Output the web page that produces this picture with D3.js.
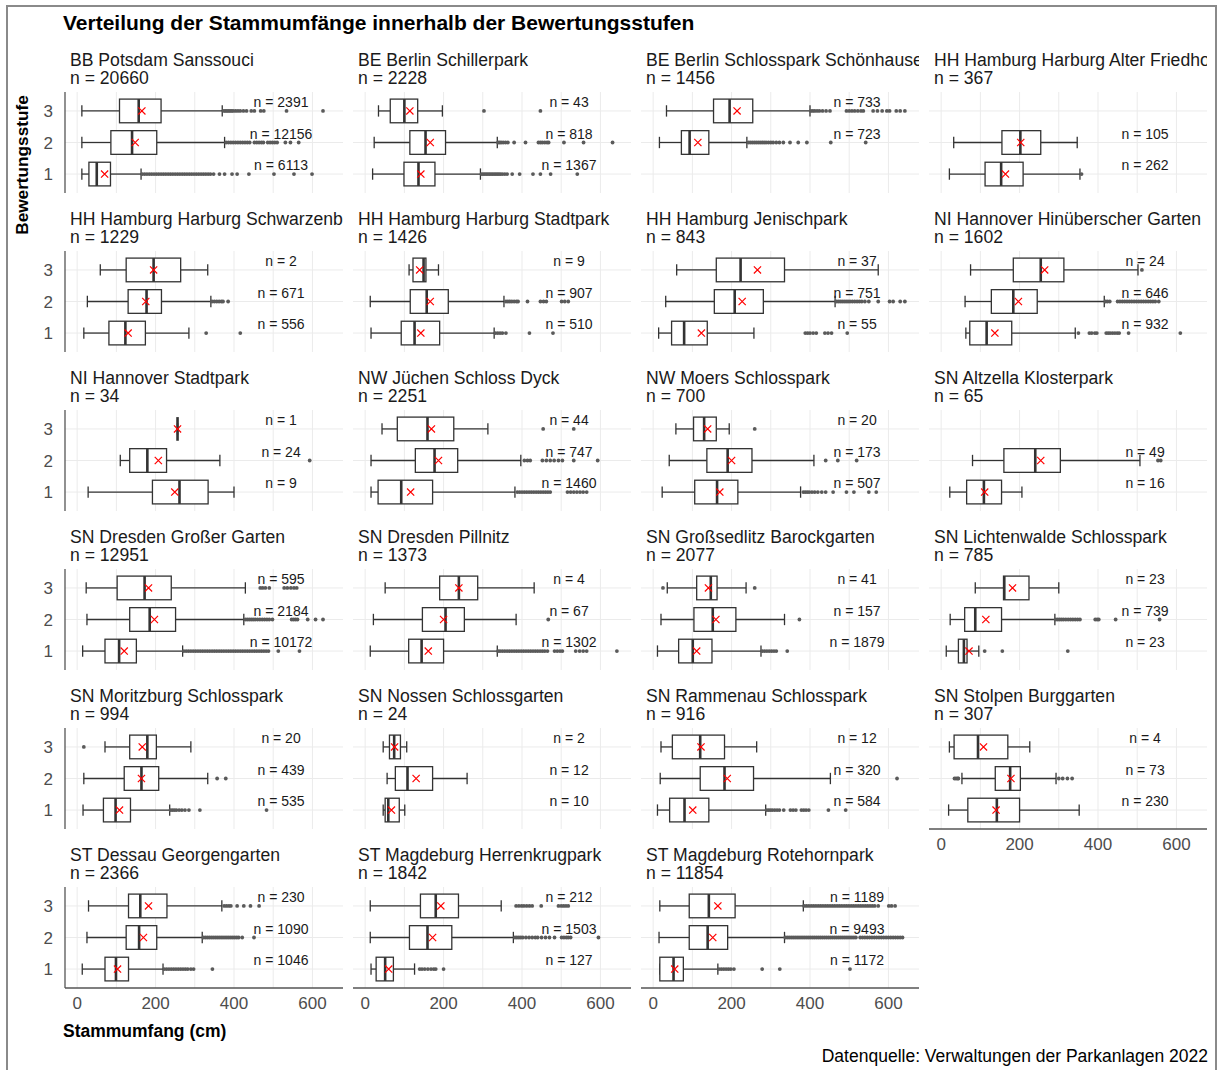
<!DOCTYPE html>
<html><head><meta charset="utf-8">
<script src="https://cdn.jsdelivr.net/npm/d3@7"></script>
<style>
body{margin:0;background:#fff;font-family:"Liberation Sans",Arial,sans-serif;}
</style></head><body>
<script>
// Parks (facets) in facet order
const parks = ["BB Potsdam Sanssouci","BE Berlin Schillerpark","BE Berlin Schlosspark Schönhausen","HH Hamburg Harburg Alter Friedhof",
  "HH Hamburg Harburg Schwarzenberg","HH Hamburg Harburg Stadtpark","HH Hamburg Jenischpark","NI Hannover Hinüberscher Garten",
  "NI Hannover Stadtpark","NW Jüchen Schloss Dyck","NW Moers Schlosspark","SN Altzella Klosterpark",
  "SN Dresden Großer Garten","SN Dresden Pillnitz","SN Großsedlitz Barockgarten","SN Lichtenwalde Schlosspark",
  "SN Moritzburg Schlosspark","SN Nossen Schlossgarten","SN Rammenau Schlosspark","SN Stolpen Burggarten",
  "ST Dessau Georgengarten","ST Magdeburg Herrenkrugpark","ST Magdeburg Rotehornpark"];
const parkN = [20660,2228,1456,367,1229,1426,843,1602,34,2251,700,65,12951,1373,2077,785,994,24,916,307,2366,1842,11854];
const stufen = ["1","2","3"];
// n per Bewertungsstufe [1,2,3]
const groupN = [[6113,12156,2391],[1367,818,43],[null,723,733],[262,105,null],[556,671,2],[510,907,9],[55,751,37],[932,646,24],
  [9,24,1],[1460,747,44],[507,173,20],[16,49,null],[10172,2184,595],[1302,67,4],[1879,157,41],[23,739,23],
  [535,439,20],[10,12,2],[584,320,12],[230,73,4],[1046,1090,230],[127,1503,212],[1172,9493,1189]];
// [whisker low, q1, median, q3, whisker high] per Stufe 1,2,3
const boxes = [
  [[12,30,50,85,163],[12,86,140,203,376],[12,108,157,214,370]],
  [[19,99,136,178,294],[23,114,154,205,337],[34,64,100,134,197]],
  [null,[16,72,93,142,239],[34,154,195,254,400]],
  [[21,112,153,209,354],[32,155,202,254,347],null],
  [[17,81,123,174,285],[26,130,177,215,341],[59,125,195,264,333]],
  [[15,92,126,190,329],[13,115,157,212,354],[112,122,149,155,187]],
  [[14,47,79,138,257],[32,156,208,281,464],[60,161,223,335,574]],
  [[63,73,116,180,342],[61,128,184,245,416],[75,184,254,313,502]],
  [[28,192,261,334,400],[110,134,179,228,364],[256,256,256,256,256]],
  [[15,33,92,172,382],[15,128,177,236,397],[43,82,159,226,313]],
  [[23,106,163,216,376],[41,137,190,252,410],[58,103,130,161,194]],
  [[22,65,109,154,206],[80,160,240,304,507],null],
  [[14,71,107,151,269],[25,134,185,251,425],[23,102,172,240,429]],
  [[13,111,144,200,337],[21,146,205,253,385],[51,190,239,287,431]],
  [[11,65,101,150,275],[20,104,152,211,335],[36,111,147,163,237]],
  [[13,44,58,66,96],[23,60,87,154,290],[87,159,161,224,300]],
  [[15,67,98,136,236],[17,120,164,208,333],[71,134,179,202,290]],
  [[46,51,59,87,101],[56,77,108,172,260],[46,62,74,90,106]],
  [[11,42,80,142,287],[18,120,182,256,452],[20,49,120,182,264]],
  [[19,68,142,200,352],[53,138,176,202,293],[21,33,94,170,226]],
  [[13,71,99,131,219],[25,125,158,203,319],[29,131,161,229,369]],
  [[15,28,51,72,126],[13,113,159,221,378],[13,141,180,238,347]],
  [[17,17,52,77,165],[15,92,139,190,335],[17,92,142,209,383]]
];
const means = [[70,148,165],[142,166,114],[null,114,214],[164,203,null],[130,175,195],[142,166,139],[123,227,266],[137,197,264],
  [249,207,256],[116,187,169],[170,200,139],[111,254,null],[120,197,182],[161,200,239],[111,160,141],[71,114,182],
  [108,164,166],[67,130,75],[101,189,122],[140,178,108],[103,169,182],[60,172,193],[55,152,165]];
const outliers = [
  [[166,172,178,184,190,196,202,208,214,220,226,232,238,244,250,256,262,268,274,280,286,292,298,304,310,316,322,328,334,340,348,363,376,395,408,438,502,553,599],
   [380,386,392,398,404,410,416,422,428,434,440,452,458,464,470,475,486,492,498,504,510,531,544,565],
   [374,378,382,386,390,394,398,404,410,416,424,432,444,452,468,476,534,627]],
  [[297,301,305,309,313,317,321,325,329,333,337,341,345,350,356,362,375,394,428,447,473,541],
   [339,343,347,352,358,364,380,409,442,447,452,458,464,468,507,557,631],
   [303,447]],
  [[],
   [243,248,253,258,263,268,273,278,283,288,294,300,306,314,322,332,349,370,392,453,542],
   [402,407,412,418,424,432,441,451,493,500,507,514,522,530,536,561,572,584,596,603,620,630,642]],
  [[358],[],[]],
  [[329,416],[344,350,356,362,368,372,385],[]],
  [[332,338,344,350,359,419,479],[359,364,369,374,380,386,390,414,447,455,462,501,509,518],[]],
  [[388,394,400,408,416,438,446,455,495],[467,472,477,482,487,492,497,502,508,514,520,526,532,540,550,574,603,612,630,642],[]],
  [[350,378,384,392,397,421,426,431,437,443,449,454,478,610],[419,424,430,450,456,462,468,474,480,486,492,498,504,510,516,522,528,534,540,546,555],[512]],
  [[],[593],[]],
  [[388,394,400,406,412,418,424,430,436,442,448,454,460,466,472,516,524,532,540,548,556,565],[406,414,421,452,462,472,482,493,503,532,593],[454,532]],
  [[383,388,393,398,405,412,420,430,440,459,493,512,550,569],[440,471,519],[259]],
  [[],[553,560],[]],
  [[272,278,284,290,296,302,308,314,320,326,332,338,344,350,356,362,368,374,380,386,392,398,404,410,416,422,428,434,440,446,452,458,464,470,476,482,488,513,567],
   [429,434,439,444,449,454,460,466,472,478,484,490,498,547,552,557,562,588,608,627],
   [467,473,480,490,528,536,545,553,560]],
  [[339,344,350,356,362,368,374,380,386,392,398,404,410,416,422,428,434,440,446,452,458,465,483,490,497,503,537,547,556,565,642],[467],[]],
  [[278,284,290,296,302,308,314,342],[373],[25,259]],
  [[111,156,323],[292,297,302,307,312,318,324,330,336,342,348,354,393,398,402,445,557],[]],
  [[238,243,248,253,260,267,275,285,313,483],[357,379],[17]],
  [[],[],[]],
  [[289,294,299,304,310,316,322,333,350,357,364,378,384,390,397,447,491],[622],[]],
  [[],[34,38,42,44,300,310,322,334],[]],
  [[222,228,234,240,246,252,258,264,270,276,282,290,297,345],
   [322,327,332,337,342,347,352,357,362,367,372,377,382,387,392,397,402,407,412,421,451],
   [375,381,387,392,408,425,442,464]],
  [[139,145,152,160,168,175,180,200],
   [382,387,392,397,402,410,418,426,434,440,450,460,470,483,501,507,513,518,524,595],
   [385,392,399,405,412,419,426,449,493,500,506,512,518]],
  [[168,174,180,186,192,198,206,278,323,502],
   [337,342,347,352,357,362,367,372,377,382,387,392,397,402,407,412,417,422,427,432,437,442,447,452,457,462,467,472,477,482,487,492,497,502,507,512,517,528,534,540,546,552,558,564,570,576,582,588,594,600,606,612,618,624,630,636],
   [385,391,397,403,409,415,421,427,433,439,445,451,457,463,469,475,481,487,493,499,505,511,517,523,529,535,541,547,553,559,565,574,601,608,617]]
];
const xTicks = [0,200,400,600];
const nLabelX = 520;

const W = 1218, H = 1070;
const PW = 278, PH = 101, COLSTEP = 288, ROWSTEP = 159, LEFT = 65, TOP = 92;
const DARK = "#333333";

const svg = d3.select("body").append("svg").attr("width", W).attr("height", H);
const x = d3.scaleLinear().domain([-31, 678]).range([0, PW]);
const y = d3.scalePoint().domain(["3","2","1"]).range([0, PH]).padding(0.6);
const step = y.step();

svg.append("rect").attr("x", 7).attr("y", 6).attr("width", 1209).attr("height", 1090)
  .attr("fill", "none").attr("stroke", "#8a8a8a").attr("stroke-width", 2);

svg.append("text").attr("x", 63).attr("y", 30).text("Verteilung der Stammumfänge innerhalb der Bewertungsstufen")
  .attr("font-size", "21px").attr("font-weight", "bold").attr("fill", "#000");

parks.forEach((name, i) => {
  const col = i % 4, row = Math.floor(i / 4);
  const g = svg.append("g").attr("transform", "translate(" + (LEFT + col * COLSTEP) + "," + (TOP + row * ROWSTEP) + ")");

  // strip
  svg.append("clipPath").attr("id", "clip" + i).append("rect")
    .attr("x", 0).attr("y", -60).attr("width", PW).attr("height", 60);
  const strip = g.append("g").attr("clip-path", "url(#clip" + i + ")")
    .attr("font-size", "17.6px").attr("fill", "#1a1a1a");
  strip.append("text").attr("x", 5).attr("y", -26).text(name);
  strip.append("text").attr("x", 5).attr("y", -8).text("n = " + parkN[i]);

  // grid
  g.selectAll(".vg").data(x.ticks(7)).enter().append("line")
    .attr("x1", d => x(d)).attr("x2", d => x(d)).attr("y1", 0).attr("y2", PH)
    .attr("stroke", "#ebebeb").attr("stroke-width", 1);
  g.selectAll(".hg").data(y.domain()).enter().append("line")
    .attr("x1", 0).attr("x2", PW).attr("y1", d => y(d)).attr("y2", d => y(d))
    .attr("stroke", "#ebebeb").attr("stroke-width", 1);

  stufen.forEach((s, j) => {
    const b = boxes[i][j];
    if (!b) return;
    const yy = y(s), bh = 0.75 * step, ch = 0.36 * step;
    // whiskers + caps
    g.append("line").attr("x1", x(b[0])).attr("x2", x(b[1])).attr("y1", yy).attr("y2", yy)
      .attr("stroke", DARK).attr("stroke-width", 1.3);
    g.append("line").attr("x1", x(b[3])).attr("x2", x(b[4])).attr("y1", yy).attr("y2", yy)
      .attr("stroke", DARK).attr("stroke-width", 1.3);
    [b[0], b[4]].forEach(v => g.append("line").attr("x1", x(v)).attr("x2", x(v))
      .attr("y1", yy - ch / 2).attr("y2", yy + ch / 2).attr("stroke", DARK).attr("stroke-width", 1.3));
    // box
    g.append("rect").attr("x", x(b[1])).attr("y", yy - bh / 2)
      .attr("width", Math.max(0, x(b[3]) - x(b[1]))).attr("height", bh)
      .attr("fill", "#fff").attr("stroke", DARK).attr("stroke-width", 1.3);
    g.append("line").attr("x1", x(b[2])).attr("x2", x(b[2])).attr("y1", yy - bh / 2).attr("y2", yy + bh / 2)
      .attr("stroke", DARK).attr("stroke-width", 2.6);
    // outliers
    g.selectAll(null).data(outliers[i][j]).enter().append("circle")
      .attr("cx", d => x(d)).attr("cy", yy).attr("r", 1.9).attr("fill", "#5a5a5a");
    // mean
    const m = means[i][j], mx = x(m), r = 3.6;
    g.append("path").attr("d", "M" + (mx - r) + "," + (yy - r) + "L" + (mx + r) + "," + (yy + r) +
      "M" + (mx - r) + "," + (yy + r) + "L" + (mx + r) + "," + (yy - r))
      .attr("stroke", "#ff0000").attr("stroke-width", 1.2);
    // n label
    g.append("text").attr("x", x(nLabelX)).attr("y", yy - 4).attr("text-anchor", "middle")
      .attr("font-size", "14px").attr("fill", "#1a1a1a").text("n = " + groupN[i][j]);
  });

  if (col === 0) {
    g.append("line").attr("x1", 0).attr("x2", 0).attr("y1", 0).attr("y2", PH)
      .attr("stroke", "#555").attr("stroke-width", 1.3);
    g.selectAll(".yl").data(y.domain()).enter().append("text")
      .attr("x", -12).attr("y", d => y(d)).attr("dy", "0.36em").attr("text-anchor", "end")
      .attr("font-size", "17px").attr("fill", "#4d4d4d").text(d => d);
  }
  if (i + 4 >= parks.length) {
    g.append("line").attr("x1", 0).attr("x2", PW).attr("y1", PH).attr("y2", PH)
      .attr("stroke", "#555").attr("stroke-width", 1.3);
    g.selectAll(".xl").data(xTicks).enter().append("text")
      .attr("x", d => x(d)).attr("y", PH + 21).attr("text-anchor", "middle")
      .attr("font-size", "17px").attr("fill", "#4d4d4d").text(d => d);
  }
});

svg.append("text").attr("x", 63).attr("y", 1037).text("Stammumfang (cm)")
  .attr("font-size", "17.5px").attr("font-weight", "bold").attr("fill", "#000");
svg.append("text").attr("transform", "translate(28,165) rotate(-90)").attr("text-anchor", "middle")
  .text("Bewertungsstufe").attr("font-size", "17.2px").attr("font-weight", "bold").attr("fill", "#000");
svg.append("text").attr("x", 1208).attr("y", 1062).attr("text-anchor", "end")
  .text("Datenquelle: Verwaltungen der Parkanlagen 2022").attr("font-size", "17.5px").attr("fill", "#000");
</script>
</body></html>
